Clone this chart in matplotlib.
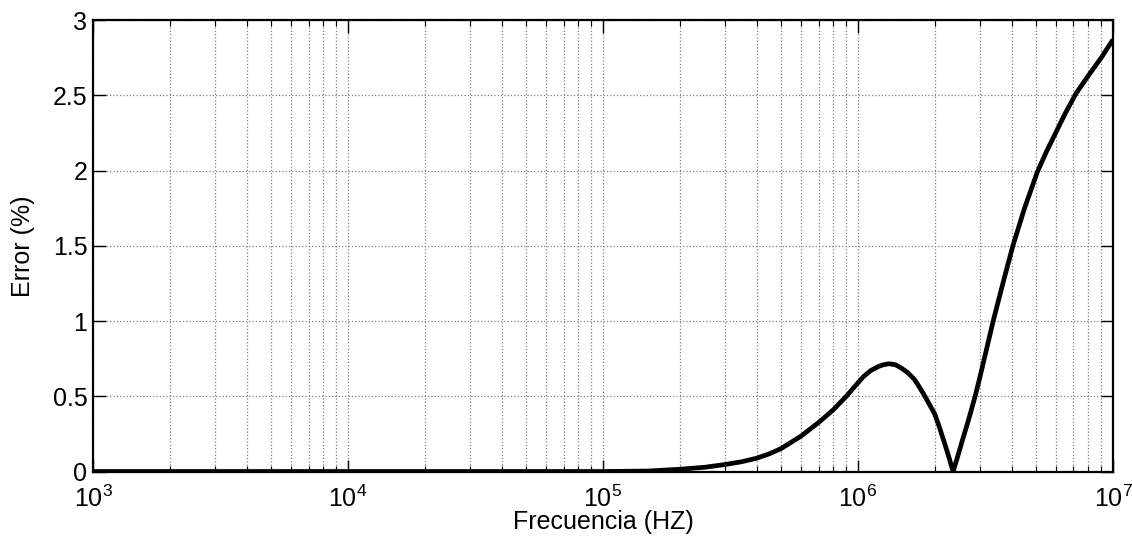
import matplotlib
matplotlib.use('Agg')
import matplotlib.pyplot as plt
from matplotlib.ticker import LogLocator, NullFormatter
import numpy as np

plt.rcParams['font.family'] = ['Liberation Sans', 'DejaVu Sans']
plt.rcParams['mathtext.fontset'] = 'custom'
plt.rcParams['mathtext.rm'] = 'Liberation Sans'
plt.rcParams['mathtext.it'] = 'Liberation Sans'
plt.rcParams['mathtext.default'] = 'regular'

# Error curve (frequency in Hz, error in %)
freq = [1e3, 1e4, 1e5, 1.5e5, 2e5, 2.5e5, 3e5, 3.5e5, 4e5, 4.5e5, 5e5, 6e5, 7e5, 8e5, 9e5,
        1e6, 1.05e6, 1.12e6, 1.2e6, 1.25e6, 1.32e6, 1.4e6, 1.47e6, 1.56e6, 1.66e6,
        1.72e6, 1.81e6, 1.9e6, 2e6, 2.08e6, 2.17e6, 2.25e6, 2.36e6,
        2.45e6, 2.59e6, 2.7e6, 2.88e6, 3e6, 3.2e6, 3.39e6, 3.7e6, 4.05e6, 4.5e6,
        5.05e6, 5.5e6, 6e6, 6.5e6, 7.15e6, 8e6, 9e6, 1e7]
error = [0.0, 0.0, 0.0, 0.003, 0.015, 0.028, 0.046, 0.065, 0.088, 0.118, 0.153, 0.237, 0.325, 0.41, 0.50,
         0.59, 0.63, 0.67, 0.697, 0.708, 0.716, 0.71, 0.69, 0.66, 0.614,
         0.575, 0.514, 0.45, 0.381, 0.30, 0.204, 0.12, 0.0,
         0.09, 0.23, 0.33, 0.50, 0.62, 0.82, 1.0, 1.25, 1.5, 1.75,
         1.99, 2.13, 2.26, 2.38, 2.51, 2.63, 2.75, 2.87]

x_label = "Frecuencia (HZ)"
y_label = "Error (%)"
y_ticks = [0, 0.5, 1, 1.5, 2, 2.5, 3]
y_tick_labels = ['0', '0.5', '1', '1.5', '2', '2.5', '3']

fig = plt.figure(figsize=(11.32, 5.38), dpi=100)
ax = fig.add_axes([0.0822, 0.1236, 0.9832 - 0.0822, 0.9628 - 0.1236])

ax.plot(freq, error, color='black', linewidth=3.4,
        solid_joinstyle='round', solid_capstyle='butt')

ax.set_xscale('log')
ax.set_xlim(1e3, 1e7)
ax.set_ylim(0, 3)
ax.xaxis.set_major_locator(LogLocator(base=10, numticks=10))
ax.xaxis.set_minor_locator(LogLocator(base=10, subs=np.arange(2, 10), numticks=20))
ax.xaxis.set_minor_formatter(NullFormatter())
ax.set_yticks(y_ticks, labels=y_tick_labels)

ax.grid(True, which='major', color='#808080', linestyle=':', linewidth=0.9)
ax.grid(True, which='minor', axis='x', color='#808080', linestyle=':', linewidth=0.9)

ax.tick_params(which='major', direction='in', length=9, width=1, top=True, right=True,
               labelsize=18)
ax.tick_params(axis='x', which='major', pad=10)
ax.tick_params(axis='y', which='major', pad=4)
ax.tick_params(which='minor', direction='in', length=4, width=0.8, top=True, right=True)
for s in ax.spines.values():
    s.set_linewidth(1.6)

ax.set_xlabel(x_label, fontsize=18, labelpad=-1)
ax.set_ylabel(y_label, fontsize=18, labelpad=13)

fig.savefig('out.png', dpi=100)
